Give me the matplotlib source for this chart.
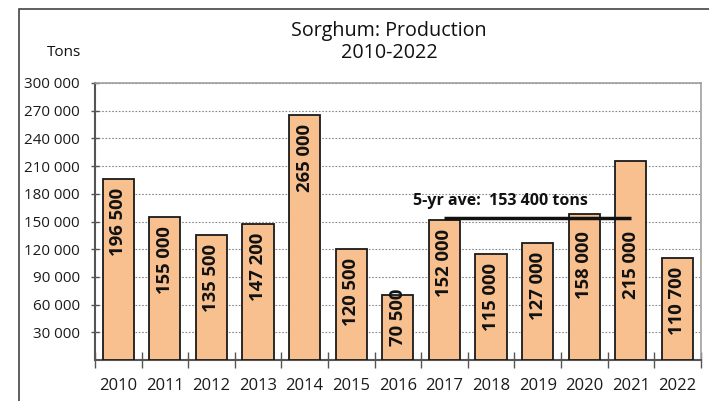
import matplotlib
matplotlib.use("Agg")
import matplotlib.pyplot as plt
from matplotlib.patches import Rectangle

plt.rcParams['font.family'] = ['Open Sans', 'DejaVu Sans']

years = ["2010", "2011", "2012", "2013", "2014", "2015", "2016",
         "2017", "2018", "2019", "2020", "2021", "2022"]
production = [196500, 155000, 135500, 147200, 265000, 120500, 70500,
              152000, 115000, 127000, 158000, 215000, 110700]
value_labels = ["196 500", "155 000", "135 500", "147 200", "265 000", "120 500", "70 500",
                "152 000", "115 000", "127 000", "158 000", "215 000", "110 700"]
ytick_values = [30000, 60000, 90000, 120000, 150000, 180000, 210000, 240000, 270000, 300000]
ytick_labels = ["30 000", "60 000", "90 000", "120 000", "150 000", "180 000",
                "210 000", "240 000", "270 000", "300 000"]
avg_start, avg_end = 7, 11
avg_value = 153400
avg_text = "5-yr ave:  153 400 tons"

fig = plt.figure(figsize=(7.09, 4.01), dpi=100)
ax = fig.add_axes([95/709, 1-360/401, (700.7-95)/709, (360-83)/401])

x = list(range(len(years)))
ax.bar(x, production, width=0.67, color='#F9C08F', edgecolor='#1a1a1a', linewidth=1.3, zorder=3)

ax.set_xlim(-0.5, len(years)-0.5)
ax.set_ylim(0, 300000)
ax.set_yticks(ytick_values)
ax.set_yticklabels(ytick_labels, fontsize=10.9, color='#1a1a1a')
ax.yaxis.grid(True, linestyle=(0, (1.5, 1.5)), color='#888888', linewidth=0.8, zorder=0)
ax.tick_params(axis='y', direction='inout', length=6, width=1, color='#555555', pad=8)

# category boundaries as ticks
ax.set_xticks([i - 0.5 for i in range(len(years)+1)])
ax.set_xticklabels([])
ax.set_xticks(x, minor=True)
ax.set_xticklabels(years, minor=True, fontsize=12, color='#1a1a1a')
ax.tick_params(axis='x', which='major', direction='inout', length=12, width=1, color='#555555')
ax.tick_params(axis='x', which='minor', length=0, pad=13)

for s in ['left', 'bottom']:
    ax.spines[s].set_color('#555555')
    ax.spines[s].set_linewidth(1.5)
for s in ['top', 'right']:
    ax.spines[s].set_color('#a0a0a0')
    ax.spines[s].set_linewidth(1.2)

bold_font = ['Open Sans', 'DejaVu Sans']
for xi, v, lab in zip(x, production, value_labels):
    if v < 85000:
        ax.annotate(lab, (xi, 0), xytext=(0, 10), textcoords='offset points',
                    rotation=90, ha='center', va='bottom', fontsize=13.3,
                    fontweight='bold', family=bold_font, color='#111111', zorder=5)
    else:
        # keep labels below the 5-yr average line where they would cross it
        anchor = v
        if avg_start <= xi <= avg_end and v > avg_value:
            anchor = min(v, avg_value - 4000)
        ax.annotate(lab, (xi, anchor), xytext=(0, -6.5), textcoords='offset points',
                    rotation=90, ha='center', va='top', fontsize=13.3,
                    fontweight='bold', family=bold_font, color='#111111', zorder=5)

ax.plot([avg_start, avg_end], [avg_value, avg_value], color='#111111', linewidth=2.5,
        zorder=6, solid_capstyle='butt')
ax.text(6.32, 172500, avg_text, fontsize=11.5, fontweight='bold', family=bold_font,
        ha='left', va='center', color='#111111', zorder=6)

fig.text(0.549, 0.923, "Sorghum: Production", ha='center', va='center', fontsize=14.2, color='#111111')
fig.text(0.549, 0.868, "2010-2022", ha='center', va='center', fontsize=14.2, color='#111111')
fig.text(0.090, 0.868, "Tons", ha='center', va='center', fontsize=11, color='#111111')

fig.patches.append(Rectangle((19/709, -0.05), 1.0, 1-9/401+0.05, transform=fig.transFigure,
                             fill=False, edgecolor='#444444', linewidth=1.2, zorder=0))

fig.savefig("out.png", dpi=100)
